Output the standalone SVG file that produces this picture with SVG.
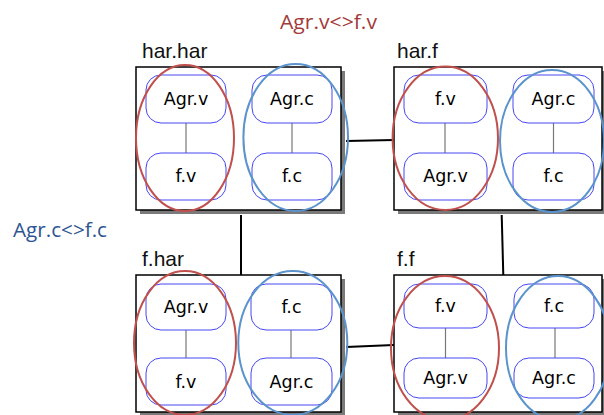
<svg xmlns="http://www.w3.org/2000/svg" width="604" height="415" viewBox="0 0 604 415">
<style>
.shadow{fill:#7a7a7a;stroke:none}
.box{fill:#fff;stroke:#000;stroke-width:1.5}
.node{fill:#fff;stroke:#4646F4;stroke-width:1}
.ntxt{font-family:"DejaVu Sans",sans-serif;font-size:17.5px;fill:#000;text-anchor:middle}
.title{font-family:"Liberation Sans",Arial,sans-serif;font-size:21px;fill:#111}
.link{stroke:#777;stroke-width:1.2}
.red{fill:none;stroke:#C0504D;stroke-width:2}
.blue{fill:none;stroke:#5B93CC;stroke-width:2}
.conn{stroke:#000;stroke-width:2;fill:none}
.lab{font-family:"Open Sans","Liberation Sans",sans-serif;font-size:20px}
</style>
<rect width="604" height="415" fill="#fff"/>
<text class="lab" x="280" y="29" fill="#A33A3A" textLength="97" lengthAdjust="spacingAndGlyphs">Agr.v&lt;&gt;f.v</text>
<text class="lab" x="13" y="237" fill="#2D5592" textLength="94" lengthAdjust="spacingAndGlyphs">Agr.c&lt;&gt;f.c</text>

<g id="connectors">
<line class="conn" x1="346" y1="141" x2="394" y2="140"/>
<line class="conn" x1="346" y1="347" x2="394" y2="345"/>
<line class="conn" x1="241" y1="215" x2="241" y2="275"/>
<line class="conn" x1="501.7" y1="215" x2="503.3" y2="275"/>
</g>

<g id="har.har">
<rect class="shadow" x="140" y="71" width="205" height="143"/>
<rect class="box" x="136" y="67" width="205" height="143"/>
<text class="title" x="142" y="57.5">har.har</text>
<line class="link" x1="186" y1="123" x2="186" y2="153"/>
<line class="link" x1="292" y1="123" x2="292" y2="153"/>
<rect class="node" x="146" y="75" width="80" height="48" rx="15"/>
<text class="ntxt" x="186" y="105">Agr.v</text>
<rect class="node" x="146" y="153" width="80" height="47" rx="15"/>
<text class="ntxt" x="186" y="182">f.v</text>
<rect class="node" x="252" y="75" width="80" height="48" rx="15"/>
<text class="ntxt" x="292" y="105">Agr.c</text>
<rect class="node" x="252" y="153" width="80" height="47" rx="15"/>
<text class="ntxt" x="292" y="182">f.c</text>
<ellipse class="red" cx="185" cy="138" rx="49" ry="73"/>
<ellipse class="blue" cx="295.7" cy="137.5" rx="52.3" ry="73.5"/>
</g>

<g id="har.f">
<rect class="shadow" x="398" y="71" width="208" height="143"/>
<rect class="box" x="394" y="67" width="208" height="143"/>
<text class="title" x="397" y="57.5">har.f</text>
<line class="link" x1="445" y1="123" x2="445" y2="153"/>
<line class="link" x1="553.5" y1="123" x2="553.5" y2="153"/>
<rect class="node" x="404" y="75" width="83" height="48" rx="15"/>
<text class="ntxt" x="445.5" y="105">f.v</text>
<rect class="node" x="404" y="153" width="83" height="47" rx="15"/>
<text class="ntxt" x="445.5" y="182">Agr.v</text>
<rect class="node" x="513" y="75" width="81" height="48" rx="15"/>
<text class="ntxt" x="553.5" y="105">Agr.c</text>
<rect class="node" x="513" y="153" width="81" height="47" rx="15"/>
<text class="ntxt" x="553.5" y="182">f.c</text>
<ellipse class="red" cx="445.3" cy="138.3" rx="52.7" ry="71.7"/>
<ellipse class="blue" cx="552" cy="141" rx="52" ry="71"/>
</g>

<g id="f.har">
<rect class="shadow" x="140" y="279" width="205" height="140"/>
<rect class="box" x="136" y="275" width="205" height="137"/>
<text class="title" x="142" y="266">f.har</text>
<line class="link" x1="186" y1="330" x2="186" y2="358"/>
<line class="link" x1="291" y1="330" x2="291" y2="358"/>
<rect class="node" x="146" y="284" width="80" height="46" rx="15"/>
<text class="ntxt" x="186" y="313">Agr.v</text>
<rect class="node" x="146" y="358" width="80" height="47" rx="15"/>
<text class="ntxt" x="186" y="388">f.v</text>
<rect class="node" x="251" y="284" width="81" height="46" rx="15"/>
<text class="ntxt" x="291.5" y="313">f.c</text>
<rect class="node" x="251" y="358" width="81" height="47" rx="15"/>
<text class="ntxt" x="291.5" y="388">Agr.c</text>
<ellipse class="red" cx="185" cy="343" rx="51" ry="72"/>
<ellipse class="blue" cx="292.8" cy="343" rx="54.5" ry="72"/>
</g>

<g id="f.f">
<rect class="shadow" x="398" y="279" width="208" height="140"/>
<rect class="box" x="394" y="275" width="208" height="137"/>
<text class="title" x="397" y="266">f.f</text>
<line class="link" x1="445.5" y1="328" x2="445.5" y2="358"/>
<line class="link" x1="555" y1="328" x2="555" y2="358"/>
<rect class="node" x="404" y="284" width="83" height="44" rx="15"/>
<text class="ntxt" x="445.5" y="312">f.v</text>
<rect class="node" x="404" y="358" width="83" height="40" rx="15"/>
<text class="ntxt" x="445.5" y="384">Agr.v</text>
<rect class="node" x="514" y="284" width="80" height="44" rx="15"/>
<text class="ntxt" x="554" y="312">f.c</text>
<rect class="node" x="514" y="358" width="80" height="40" rx="15"/>
<text class="ntxt" x="554" y="384">Agr.c</text>
<ellipse class="red" cx="445" cy="348" rx="54" ry="72"/>
<ellipse class="blue" cx="558" cy="348" rx="52" ry="72"/>
</g>
</svg>
